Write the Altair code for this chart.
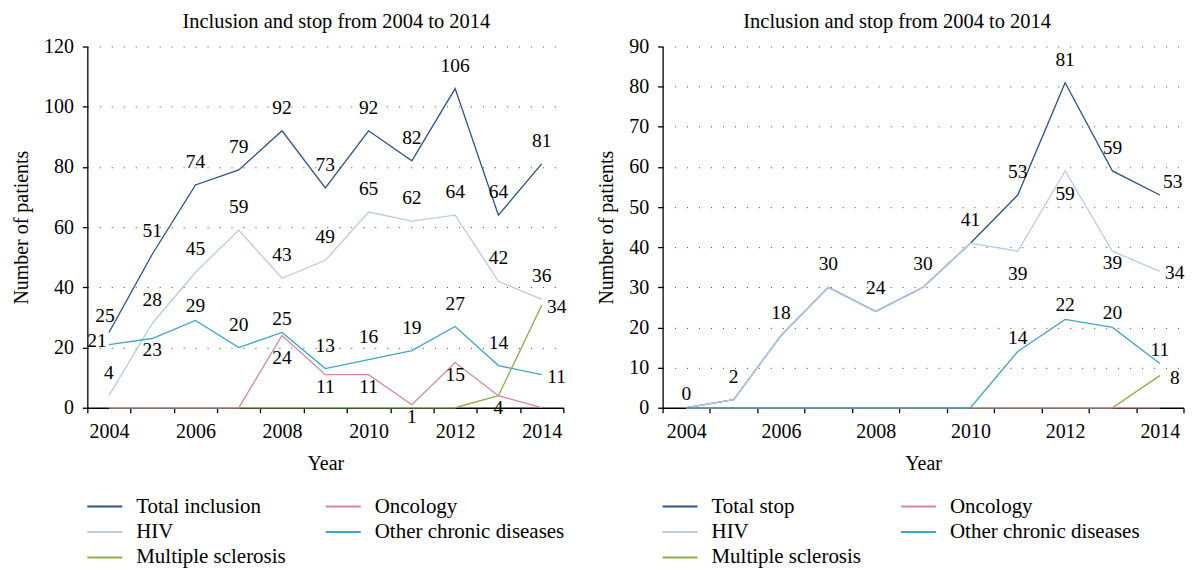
import altair as alt
import pandas as pd

years = [2004, 2005, 2006, 2007, 2008, 2009, 2010, 2011, 2012, 2013, 2014]

# Left panel: inclusions
incl_total = [25, 51, 74, 79, 92, 73, 92, 82, 106, 64, 81]
incl_hiv = [4, 28, 45, 59, 43, 49, 65, 62, 64, 42, 36]
incl_oncology = [0, 0, 0, 0, 24, 11, 11, 1, 15, 4, 0]
incl_other = [21, 23, 29, 20, 25, 13, 16, 19, 27, 14, 11]
incl_ms = [0, 0, 0, 0, 0, 0, 0, 0, 0, 4, 34]

# Right panel: stops
stop_total = [0, 2, 18, 30, 24, 30, 41, 53, 81, 59, 53]
stop_hiv = [0, 2, 18, 30, 24, 30, 41, 39, 59, 39, 34]
stop_oncology = [0, 0, 0, 0, 0, 0, 0, 0, 0, 0, 0]
stop_other = [0, 0, 0, 0, 0, 0, 0, 14, 22, 20, 11]
stop_ms = [0, 0, 0, 0, 0, 0, 0, 0, 0, 0, 8]

# Value-label placement codes (None = no label)
incl_total_lab = ["a3", "a", "a", "a", "a", "a", "a", "a", "a", "a", "a"]
incl_hiv_lab = ["a", "a", "a", "a", "a", "a", "a", "a", "a", "a", "a"]
incl_onc_lab = [None, None, None, None, "b2", "b", "b", "b", "b", "b", None]
incl_other_lab = ["l", "b", "a2", "a", "a2", "a", "a", "a", "a", "a", "r"]
incl_ms_lab = [None, None, None, None, None, None, None, None, None, None, "r"]

stop_total_lab = ["a2", "a", "a", "a", "a", "a", "a", "a", "a", "a", "ar"]
stop_hiv_lab = [None, None, None, None, None, None, None, "b2", "b2", "b", "r"]
stop_onc_lab = [None, None, None, None, None, None, None, None, None, None, None]
stop_other_lab = [None, None, None, None, None, None, None, "a2", "a2", "a2", "a2"]
stop_ms_lab = [None, None, None, None, None, None, None, None, None, None, "r"]

OFFSETS = {"a": (0, -23), "a2": (0, -14), "a3": (-4, -17), "b": (0, 12), "b2": (0, 23),
           "r": (15, 2), "l": (-12, -4), "ar": (13, -13)}

FONT = "Liberation Serif"
C_TOTAL, C_ONC, C_HIV, C_OTHER, C_MS = "#2d5286", "#d9849e", "#b8cce4", "#3fa7c4", "#8db04a"
TITLE = "Inclusion and stop from 2004 to 2014"


def panel(total_name, series, ymax, ystep, width, title_dx):
    rows = []
    for name, vals, labs in series:
        for yr, v, c in zip(years, vals, labs):
            rows.append({"year": str(yr), "series": name, "value": v,
                         "pos": c if c else "", "label": str(v)})
    df = pd.DataFrame(rows)
    # legend fills column by column: col 1 = Total, HIV, MS; col 2 = Oncology, Other
    domain = [total_name, "HIV", "Multiple sclerosis", "Oncology", "Other chronic diseases"]
    colors = [C_TOTAL, C_HIV, C_MS, C_ONC, C_OTHER]

    x = alt.X("year:O", sort=None,
              scale=alt.Scale(type="band", paddingInner=0, paddingOuter=0),
              axis=alt.Axis(title="Year", tickBand="extent", labelAngle=0,
                            labelExpr="toNumber(datum.value) % 2 == 0 ? datum.value : ''",
                            grid=False))
    y = alt.Y("value:Q", scale=alt.Scale(domain=[0, ymax], nice=False),
              axis=alt.Axis(title="Number of patients",
                            values=list(range(0, ymax + 1, ystep)),
                            grid=True, gridDash=[1, 11], gridColor="#444",
                            gridWidth=1))
    base = alt.Chart(df)
    lines = base.mark_line(strokeWidth=1.3).encode(
        x=x, y=y,
        color=alt.Color("series:N", scale=alt.Scale(domain=domain, range=colors),
                        legend=alt.Legend(title=None, orient="none", legendX=6.5, legendY=450,
                                          columns=2, columnPadding=35, rowPadding=4.5,
                                          symbolType="M-1.75,0H1.75", symbolSize=400,
                                          symbolStrokeWidth=2, labelOffset=20.5,
                                          labelFont=FONT, labelFontSize=21,
                                          labelColor="black", padding=0,
                                          labelLimit=400)),
    )
    layers = [lines]
    for code, (dx, dy) in OFFSETS.items():
        layers.append(
            base.transform_filter(alt.datum.pos == code)
            .mark_text(dx=dx, dy=dy, font=FONT, fontSize=19.5, color="black",
                       align="center", baseline="middle")
            .encode(x=x, y=y, text="label:N")
        )
    return alt.layer(*layers).properties(
        width=width, height=362,
        title=alt.TitleParams(TITLE, font=FONT, fontSize=20.5, fontWeight="normal",
                              color="black", anchor="middle", dx=title_dx, offset=4),
    )


left = panel("Total inclusion", [
    ("Total inclusion", incl_total, incl_total_lab),
    ("HIV", incl_hiv, incl_hiv_lab),
    ("Multiple sclerosis", incl_ms, incl_ms_lab),
    ("Oncology", incl_oncology, incl_onc_lab),
    ("Other chronic diseases", incl_other, incl_other_lab),
], 120, 20, 477, 11)

right = panel("Total stop", [
    ("Total stop", stop_total, stop_total_lab),
    ("HIV", stop_hiv, stop_hiv_lab),
    ("Multiple sclerosis", stop_ms, stop_ms_lab),
    ("Oncology", stop_oncology, stop_onc_lab),
    ("Other chronic diseases", stop_other, stop_other_lab),
], 90, 10, 522, -26)

chart = alt.hconcat(left, right, spacing=29.5).resolve_scale(color="independent").properties(
    padding={"left": 3.5, "top": 3, "right": 0, "bottom": 0}
).configure_view(stroke=None).configure_axis(
    labelFont=FONT, labelFontSize=20, labelColor="black",
    titleFont=FONT, titleFontSize=20, titleColor="black", titleFontWeight="normal",
    domainColor="black", domainWidth=1.3, tickColor="black", tickSize=5, tickWidth=1.3,
    labelPadding=9, titlePadding=12,
)

chart.save("out.html", embed_options={"renderer": "svg", "actions": False})
